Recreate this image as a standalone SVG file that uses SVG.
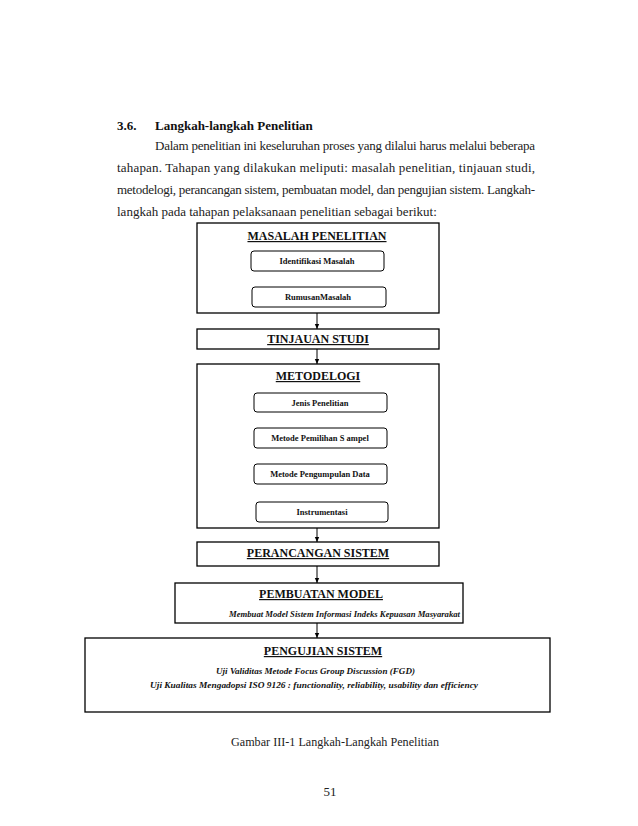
<svg xmlns="http://www.w3.org/2000/svg" width="638" height="826" viewBox="0 0 638 826">
<style>
.body{font-family:"Liberation Serif","Times New Roman",serif;font-size:13px;fill:#222}
.hd{font-family:"Liberation Serif","Times New Roman",serif;font-size:13px;font-weight:bold;fill:#111}
.title{font-family:"Liberation Serif","Times New Roman",serif;font-size:12px;font-weight:bold;fill:#111;text-anchor:middle;text-decoration:underline}
.sub{font-family:"Liberation Serif","Times New Roman",serif;font-size:8.5px;font-weight:bold;fill:#111;text-anchor:middle}
.it{font-family:"Liberation Serif","Times New Roman",serif;font-size:9px;font-weight:bold;font-style:italic;fill:#111}
.box{fill:#fff;stroke:#000;stroke-width:1.3}
.rbox{fill:#fff;stroke:#000;stroke-width:1}
.conn{stroke:#000;stroke-width:1;fill:none;marker-end:url(#ah)}
</style>
<defs>
<marker id="ah" markerWidth="6" markerHeight="6" refX="5" refY="3" orient="auto" markerUnits="userSpaceOnUse">
<path d="M0,0.8 L5,3 L0,5.2 Z" fill="#000"/>
</marker>
</defs>
<rect width="638" height="826" fill="#fff"/>
<text class="hd" x="117" y="130">3.6.</text>
<text class="hd" x="155" y="130">Langkah-langkah  Penelitian</text>
<text class="body" x="155" y="150" textLength="380" lengthAdjust="spacing">Dalam penelitian ini keseluruhan proses yang dilalui harus melalui beberapa</text>
<text class="body" x="117" y="172" textLength="418" lengthAdjust="spacing">tahapan. Tahapan yang dilakukan meliputi: masalah penelitian, tinjauan studi,</text>
<text class="body" x="117" y="194" textLength="418" lengthAdjust="spacing">metodelogi, perancangan sistem, pembuatan model, dan pengujian sistem. Langkah-</text>
<text class="body" x="117" y="216">langkah pada tahapan pelaksanaan penelitian sebagai berikut:</text>

<g id="connectors">
<line class="conn" x1="317" y1="271" x2="317" y2="287"/>
<line class="conn" x1="317" y1="313" x2="317" y2="329"/>
<line class="conn" x1="317" y1="349" x2="317" y2="364"/>
<line class="conn" x1="317" y1="412" x2="317" y2="428"/>
<line class="conn" x1="317" y1="448" x2="317" y2="464"/>
<line class="conn" x1="317" y1="484" x2="317" y2="502"/>
<line class="conn" x1="317" y1="528" x2="317" y2="542"/>
<line class="conn" x1="317" y1="566" x2="317" y2="583"/>
<line class="conn" x1="317" y1="623" x2="317" y2="638"/>
</g>

<g id="masalah">
<rect class="box" x="197" y="223" width="242" height="90"/>
<text class="title" x="317" y="240">MASALAH PENELITIAN</text>
</g>
<g id="identifikasi">
<rect class="rbox" x="251" y="251" width="133" height="20" rx="3"/>
<text class="sub" x="317" y="264">Identifikasi Masalah</text>
</g>
<g id="rumusan">
<rect class="rbox" x="252" y="287" width="134" height="20" rx="3"/>
<text class="sub" x="318" y="300">RumusanMasalah</text>
</g>
<g id="tinjauan">
<rect class="box" x="197" y="329" width="242" height="20"/>
<text class="title" x="318" y="343">TINJAUAN STUDI</text>
</g>
<g id="metodelogi">
<rect class="box" x="197" y="364" width="242" height="164"/>
<text class="title" x="318" y="380">METODELOGI</text>
</g>
<g id="jenis">
<rect class="rbox" x="254" y="393" width="133" height="19" rx="3"/>
<text class="sub" x="320" y="406">Jenis Penelitian</text>
</g>
<g id="pemilihan">
<rect class="rbox" x="254" y="428" width="133" height="20" rx="3"/>
<text class="sub" x="320" y="441">Metode Pemilihan S ampel</text>
</g>
<g id="pengumpulan">
<rect class="rbox" x="254" y="464" width="133" height="20" rx="3"/>
<text class="sub" x="320" y="477">Metode Pengumpulan Data</text>
</g>
<g id="instrumentasi">
<rect class="rbox" x="256" y="502" width="132" height="20" rx="3"/>
<text class="sub" x="322" y="515">Instrumentasi</text>
</g>
<g id="perancangan">
<rect class="box" x="197" y="542" width="242" height="24"/>
<text class="title" x="318" y="557">PERANCANGAN SISTEM</text>
</g>
<g id="pembuatan">
<rect class="box" x="175" y="583" width="288" height="40"/>
<text class="title" x="321" y="598">PEMBUATAN MODEL</text>
<text class="it" x="229" y="617" textLength="231" lengthAdjust="spacingAndGlyphs">Membuat Model Sistem Informasi Indeks Kepuasan Masyarakat</text>
</g>
<g id="pengujian">
<rect class="box" x="85" y="638" width="465" height="74"/>
<text class="title" x="323" y="655">PENGUJIAN SISTEM</text>
<text class="it" x="216" y="674" textLength="199" lengthAdjust="spacingAndGlyphs">Uji Validitas Metode Focus Group Discussion (FGD)</text>
<text class="it" x="150" y="688" textLength="328" lengthAdjust="spacingAndGlyphs">Uji Kualitas Mengadopsi  ISO 9126 : functionality, reliability, usability dan efficiency</text>
</g>
<text class="body" x="231" y="746" textLength="208" lengthAdjust="spacingAndGlyphs">Gambar III-1 Langkah-Langkah  Penelitian</text>
<text class="body" x="330" y="796" text-anchor="middle">51</text>
</svg>
